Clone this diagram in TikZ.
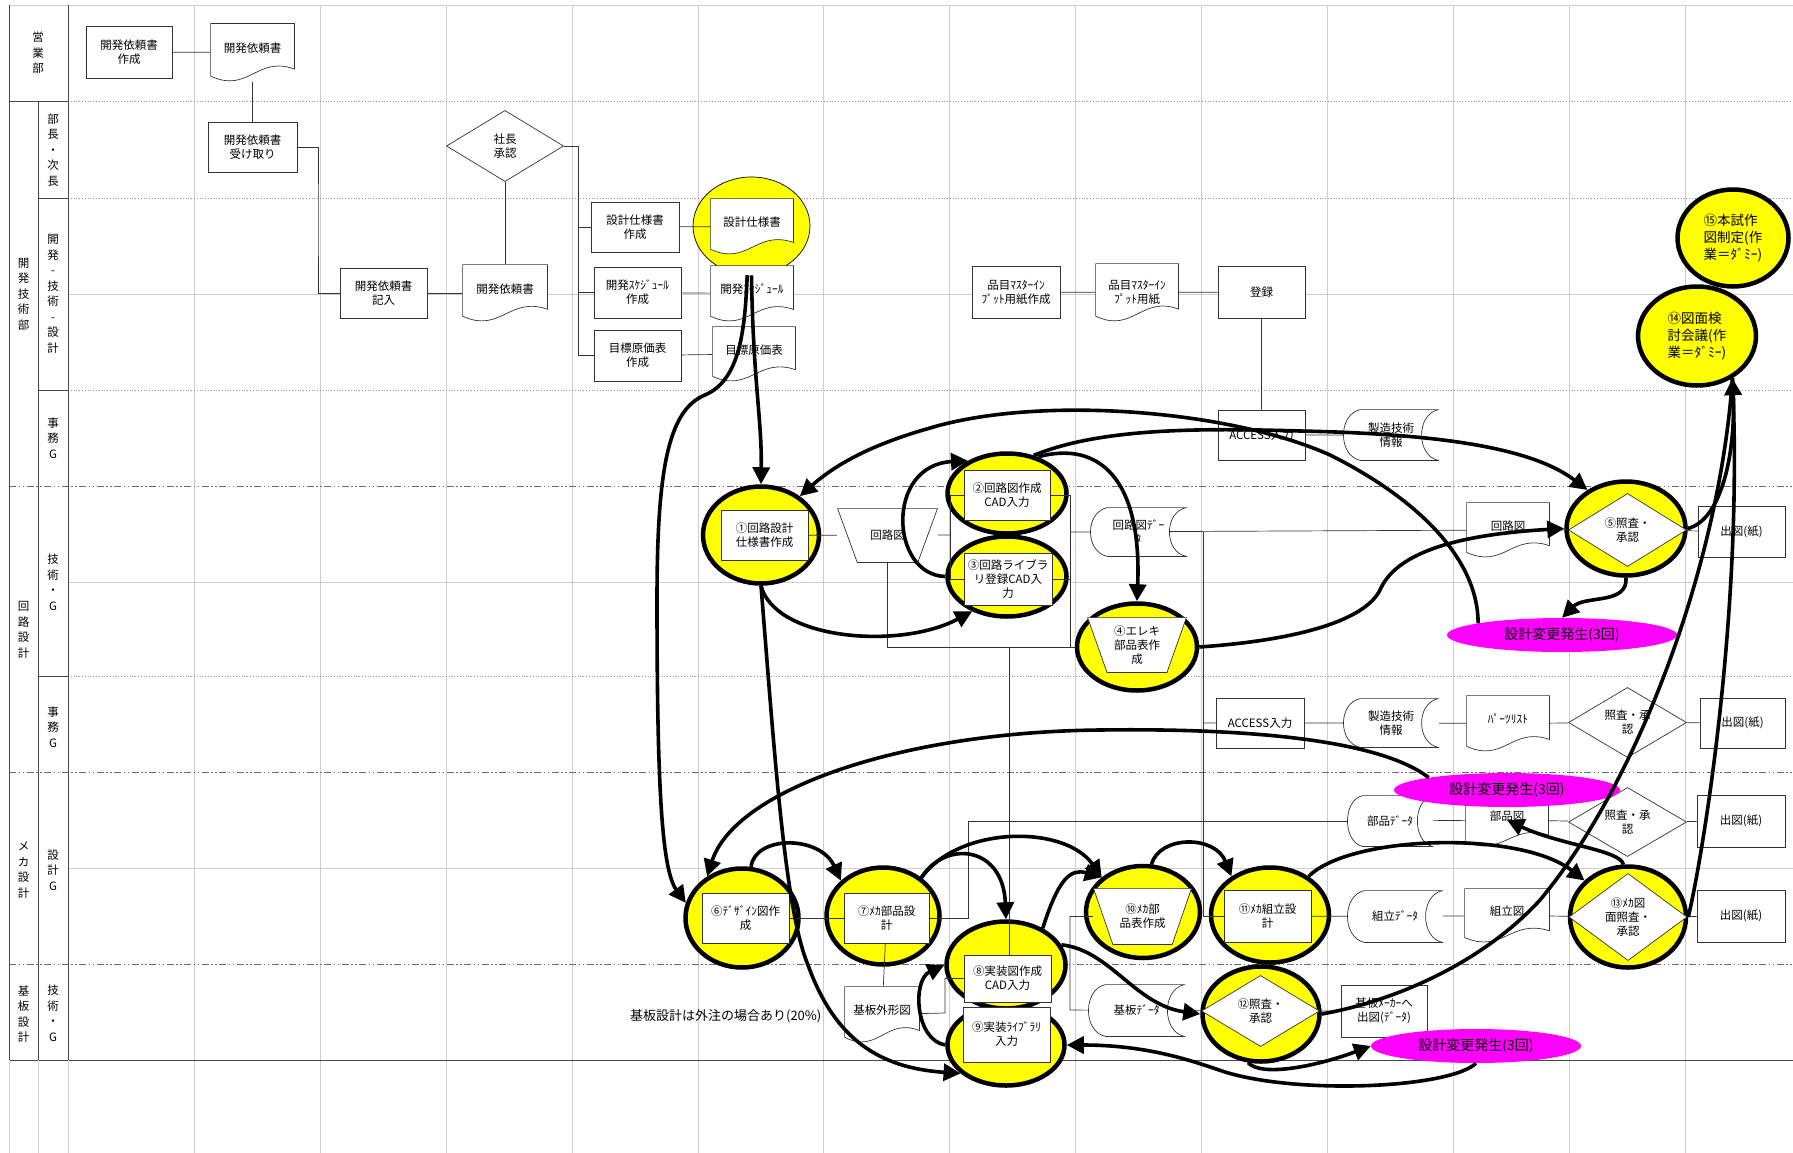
\documentclass[tikz,border=0pt]{standalone}
\usepackage{fontspec}
\setmainfont{Noto Sans CJK JP}
\usetikzlibrary{shapes.geometric,arrows.meta,calc}

\pgfdeclarelayer{grid}
\pgfdeclarelayer{ell}
\pgfdeclarelayer{thin}
\pgfdeclarelayer{fg}
\pgfsetlayers{grid,ell,thin,main,fg}

\definecolor{ylw}{RGB}{255,255,0}
\definecolor{mag}{RGB}{255,0,255}
\definecolor{gridc}{RGB}{205,205,205}
\definecolor{lanec}{RGB}{150,150,150}
\definecolor{hdrc}{RGB}{70,70,70}

\newcommand\nfont{\fontsize{11.5}{14}\selectfont}
\newcommand\lfont{\fontsize{11.5}{15.5}\selectfont}
\newcommand\mfont{\fontsize{14}{16}\selectfont}
\newcommand\bigfont{\fontsize{13.5}{17}\selectfont}
\newcommand\qfont{\fontsize{13}{15}\selectfont}

% outlines drawn inside a node's rectangle
\newcommand\docpath{%
  \draw[shp] let \p1=(path picture bounding box.north west),
                 \p2=(path picture bounding box.south east),
                 \n1={\y1-\y2}, \n2={\x2-\x1} in
    ({\x1+0.6pt},{\y1-0.6pt}) -- ({\x2-0.6pt},{\y1-0.6pt})
    -- ({\x2-0.6pt},{\y2+0.22*\n1})
    .. controls ({\x1+0.55*\n2},{\y2+0.45*\n1}) and ({\x1+0.45*\n2},{\y2-0.2*\n1}) ..
    ({\x1+0.6pt},{\y2+0.1*\n1}) -- cycle;}
\newcommand\storepath{%
  \draw[shp] let \p1=(path picture bounding box.north west),
                 \p2=(path picture bounding box.south east),
                 \n1={\y1-\y2}, \n2={\x2-\x1} in
    ({\x1+0.18*\n2},{\y1-0.6pt}) -- ({\x2-0.6pt},{\y1-0.6pt})
    .. controls ({\x2-0.24*\n2},{\y1-0.1*\n1}) and ({\x2-0.24*\n2},{\y2+0.1*\n1}) ..
    ({\x2-0.6pt},{\y2+0.6pt}) -- ({\x1+0.18*\n2},{\y2+0.6pt})
    .. controls ({\x1-0.06*\n2+0.6pt},{\y2+0.1*\n1}) and ({\x1-0.06*\n2+0.6pt},{\y1-0.1*\n1}) ..
    ({\x1+0.18*\n2},{\y1-0.6pt}) -- cycle;}
\newcommand\trappath{%
  \draw[shp] let \p1=(path picture bounding box.north west),
                 \p2=(path picture bounding box.south east),
                 \n2={\x2-\x1} in
    ({\x1+0.6pt},{\y1-0.6pt}) -- ({\x2-0.6pt},{\y1-0.6pt})
    -- ({\x2-0.2*\n2},{\y2+0.6pt}) -- ({\x1+0.2*\n2},{\y2+0.6pt}) -- cycle;}
\newcommand\diapath{%
  \draw[shp] let \p1=(path picture bounding box.north west),
                 \p2=(path picture bounding box.south east) in
    ({\x1+0.6pt},{0.5*\y1+0.5*\y2}) -- ({0.5*\x1+0.5*\x2},{\y1-0.6pt})
    -- ({\x2-0.6pt},{0.5*\y1+0.5*\y2}) -- ({0.5*\x1+0.5*\x2},{\y2+0.6pt}) -- cycle;}

\tikzset{
  shp/.style={draw=black!80, line width=0.7pt, fill=white},
  base/.style={font=\nfont, align=center, inner sep=0.5pt, text=black},
  proc/.style={base, rectangle, draw=black!80, line width=0.7pt, fill=white},
  docn/.style={base, rectangle, path picture={\docpath}},
  docup/.style={docn, text depth=9pt},
  storen/.style={base, rectangle, path picture={\storepath}},
  trapn/.style={base, rectangle, path picture={\trappath}},
  dian/.style={base, rectangle, path picture={\diapath}},
  sz/.style 2 args={minimum width=#1pt, minimum height=#2pt},
  yel/.style={ellipse, draw=black, line width=4.5pt, fill=ylw, inner sep=0pt},
  magn/.style={ellipse, fill=mag, draw=none, font=\mfont, inner sep=0pt},
  flow/.style={line width=3.6pt, draw=black, -{Triangle[length=17pt,width=17pt]}},
  flowline/.style={line width=3.6pt, draw=black},
  thinln/.style={line width=0.7pt, draw=black!80},
  gridln/.style={line width=0.6pt, draw=gridc},
  lanedot/.style={line width=0.8pt, draw=lanec, dotted},
  lanedash/.style={line width=0.9pt, draw=hdrc!80, dash pattern=on 7pt off 2.5pt on 1.5pt off 2.5pt on 1.5pt off 2.5pt},
  hdr/.style={line width=1pt, draw=hdrc},
  lane/.style={font=\lfont, align=center, inner sep=0pt},
}

\begin{document}
\begin{tikzpicture}[x=1pt,y=-1pt]
\useasboundingbox (0,0) rectangle (1793,1153);

% ---------- table grid and lanes ----------
\begin{pgfonlayer}{grid}
\fill[white] (0,0) rectangle (1793,1153);
\foreach \x in {194,320,446,572,698,823,949,1075,1201,1327,1453,1569,1685}
  \draw[gridln] (\x,5) -- (\x,1153);
\draw[gridln] (9,5) -- (1793,5);
\draw[gridln] (68,294) -- (1793,294);
\draw[gridln] (68,582) -- (1793,582);
\draw[gridln] (68,868) -- (1793,868);
\draw[lanedot] (68,101.7) -- (1793,101.7);
\draw[lanedot] (68,198) -- (1793,198);
\draw[lanedot] (68,390) -- (1793,390);
\draw[lanedot] (68,676) -- (1793,676);
\draw[lanedash] (9,486.7) -- (1793,486.7);
\draw[lanedash] (9,772.7) -- (1793,772.7);
\draw[lanedash] (9,964) -- (1793,964);
\draw[hdr] (9,1060) -- (1793,1060);
\draw[hdr] (9,101.7) -- (68,101.7);
\draw[hdr] (38,198) -- (68,198);
\draw[hdr] (38,390) -- (68,390);
\draw[hdr] (38,676) -- (68,676);
\draw[hdr] (9,5) -- (9,1060);
\draw[hdr] (38,101.7) -- (38,1060);
\draw[hdr] (68,5) -- (68,1060);
\draw[gridln] (9,1060) -- (9,1153);
\draw[gridln] (38,1060) -- (38,1153);
\draw[gridln] (68,1060) -- (68,1153);
\end{pgfonlayer}

% lane titles
\node[lane] (l1) at (38,53) {営\\業\\部};
\node[lane] (l2) at (53,150) {部\\長\\・\\次\\長};
\node[lane] (l3) at (53,294) {開\\発\\-\\技\\術\\-\\設\\計};
\node[lane] (l4) at (23.5,294) {開\\発\\技\\術\\部};
\node[lane] (l5) at (53,438) {事\\務\\G};
\node[lane] (l6) at (53,582) {技\\術\\・\\G};
\node[lane] (l7) at (23.5,630) {回\\路\\設\\計};
\node[lane] (l8) at (53,727) {事\\務\\G};
\node[lane] (l9) at (23.5,870) {メ\\カ\\設\\計};
\node[lane] (l10) at (53,870) {設\\計\\G};
\node[lane] (l11) at (23.5,1014) {基\\板\\設\\計};
\node[lane] (l12) at (53,1013) {技\\術\\・\\G};

% ---------- highlighted steps ----------
\begin{pgfonlayer}{ell}
\node[ellipse, draw=black, line width=0.7pt, fill=ylw, sz={117}{98}] (ce1) at (751.5,226) {};
\node[yel, sz={116}{97}] (p1) at (761,535) {};
\node[yel, sz={119}{80}] (p2) at (1007,493.5) {};
\node[yel, sz={119}{80}] (p3) at (1007,576.5) {};
\node[yel, sz={120}{87}] (p4) at (1137,647) {};
\node[yel, sz={119}{94}] (p5) at (1626,528.5) {};
\node[yel, sz={113}{99}] (p6) at (742,918) {};
\node[yel, sz={113}{97}] (p7) at (883,916) {};
\node[yel, sz={117}{81}] (p9) at (1006,1045) {};
\node[yel, sz={119}{87}] (p8) at (1006,965) {};
\node[yel, sz={114}{92}] (p10) at (1143,912) {};
\node[yel, sz={118}{95}] (p11) at (1270,915) {};
\node[yel, sz={117}{95}] (p12) at (1261,1014) {};
\node[yel, sz={116}{101}] (p13) at (1628,917) {};
\node[yel, sz={118}{99}, font=\bigfont, align=left] (p14) at (1697,336) {⑭図面検\\討会議(作\\業＝ﾀﾞﾐｰ)};
\node[yel, sz={111}{97}, font=\bigfont, align=left] (p15) at (1733,238) {⑮本試作\\図制定(作\\業＝ﾀﾞﾐｰ)};
\end{pgfonlayer}

% ---------- sales / development rows ----------
\node[proc, sz={86}{52}] (a1) at (129,52) {開発依頼書\\作成};
\node[docup, sz={85}{59}] (a2) at (252.5,52.5) {開発依頼書};
\node[proc, sz={89}{50}] (a3) at (252.5,147) {開発依頼書\\受け取り};
\node[proc, sz={87}{50}] (a4) at (383.5,293) {開発依頼書\\記入};
\node[docup, sz={86}{58}] (a5) at (505,293) {開発依頼書};
\node[dian, sz={118}{72}] (a6) at (505,146) {社長\\承認};
\node[proc, sz={88}{50}] (b1) at (635,227) {設計仕様書\\作成};
\node[proc, sz={87}{51}] (b2) at (637.5,292.5) {開発ｽｹｼﾞｭｰﾙ\\作成};
\node[proc, sz={87}{51}] (b3) at (637.5,355.5) {目標原価表\\作成};
\node[docup, sz={84}{57}] (c1) at (752,226.5) {設計仕様書};
\node[docup, sz={84}{57}] (c2) at (752,293.5) {開発ｽｹｼﾞｭｰﾙ};
\node[docup, sz={84}{56}] (c3) at (754,354) {目標原価表};
\node[proc, sz={88}{52}] (d1) at (1016,292) {品目ﾏｽﾀｰｲﾝ\\ﾌﾟｯﾄ用紙作成};
\node[docn, sz={84}{59}] (d2) at (1137,292.5) {品目ﾏｽﾀｰｲﾝ\\ﾌﾟｯﾄ用紙};
\node[proc, sz={87}{52}] (d3) at (1261.5,292) {登録};
\node[proc, sz={87}{50}] (d4) at (1261.5,435) {ACCESS入力};
\node[storen, sz={96}{52}] (d5) at (1391,435) {製造技術\\情報};

% ---------- circuit design ----------
\node[proc, sz={87}{50}] (p1b) at (764.5,535) {①回路設計\\仕様書作成};
\node[trapn, sz={101}{55}] (k1) at (887.5,535.5) {回路図};
\node[proc, sz={86}{50}] (p2b) at (1007,495) {②回路図作成\\CAD入力};
\node[proc, sz={88}{52}] (p3b) at (1008,579) {③回路ライブラ\\リ登録CAD入\\力};
\node[storen, sz={97}{50}] (k2) at (1138.5,532) {回路図ﾃﾞｰ\\ﾀ};
\node[trapn, sz={100}{56}] (p4b) at (1137,645) {④エレキ\\部品表作\\成};
\node[docup, sz={84}{56}] (k3) at (1508,530) {回路図};
\node[dian, sz={119}{74}] (p5b) at (1627.5,530) {⑤照査・\\承認};
\node[proc, sz={87}{51}] (k4) at (1741.5,531.5) {出図(紙)};
\node[proc, sz={88}{50}] (k5) at (1260,723) {ACCESS入力};
\node[storen, sz={96}{50}] (k6) at (1391,723) {製造技術\\情報};
\node[docup, sz={84}{57}] (k7) at (1508,723.5) {ﾊﾟｰﾂﾘｽﾄ};
\node[dian, sz={119}{71}] (k8) at (1627.5,722.5) {照査・承\\認};
\node[proc, sz={85}{50}] (k9) at (1742.5,723) {出図(紙)};

% ---------- mechanical design ----------
\node[storen, sz={86}{52}] (n1) at (1390,821) {部品ﾃﾞｰﾀ};
\node[docup, sz={84}{54}] (n2) at (1507,820) {部品図};
\node[dian, sz={119}{70}] (n3) at (1627.5,822) {照査・承\\認};
\node[proc, sz={88}{52}] (n4) at (1741,821) {出図(紙)};
\node[proc, sz={87}{50}] (p6b) at (745.5,918) {⑥ﾃﾞｻﾞｲﾝ図作\\成};
\node[proc, sz={85}{50}] (p7b) at (886.5,918) {⑦ﾒｶ部品設\\計};
\node[trapn, sz={99}{57}] (p10b) at (1142.5,916.5) {⑩ﾒｶ部\\品表作成};
\node[proc, sz={87}{52}] (p11b) at (1267.5,916) {⑪ﾒｶ組立設\\計};
\node[storen, sz={96}{53}] (n5) at (1395,916.5) {組立ﾃﾞｰﾀ};
\node[docup, sz={86}{55}] (n6) at (1507,915.5) {組立図};
\node[dian, sz={119}{88}] (p13b) at (1628,917) {⑬ﾒｶ図\\面照査・\\承認};
\node[proc, sz={88}{52}] (n7) at (1741,916) {出図(紙)};

% ---------- board design ----------
\node[proc, sz={87}{47}] (p8b) at (1007.5,978.5) {⑧実装図作成\\CAD入力};
\node[proc, sz={87}{55}] (p9b) at (1006.5,1034.5) {⑨実装ﾗｲﾌﾞﾗﾘ\\入力};
\node[docup, sz={76}{57}] (q1) at (882,1014.5) {基板外形図};
\node[storen, sz={97}{53}] (q2) at (1136.5,1010.5) {基板ﾃﾞｰﾀ};
\node[dian, sz={119}{72}] (p12b) at (1260.5,1011) {⑫照査・\\承認};
\node[proc, sz={86}{52}] (q3) at (1384,1011) {基板ﾒｰｶｰへ\\出図(ﾃﾞｰﾀ)};
\node[base, font=\qfont, anchor=east] (q4) at (822,1016) {基板設計は外注の場合あり(20\%)};

% ---------- design change events ----------
\node[magn, sz={230}{34}] (m1) at (1562,635) {設計変更発生(3回)};
\node[magn, sz={226}{34}] (m2) at (1507,790) {設計変更発生(3回)};
\node[magn, sz={210}{34}] (m3) at (1476,1046) {設計変更発生(3回)};

% ---------- thin flow lines ----------
\begin{pgfonlayer}{thin}
\draw[thinln] (a1) -- (a2);
\draw[thinln] (a2) -- (a3);
\coordinate (j1) at (318,220);
\draw[thinln] (a3) -| (j1) |- (a4);
\draw[thinln] (a4) -- (a5);
\draw[thinln] (a6) -- (a5);
\coordinate (j2) at (578,146);
\draw[thinln] (a6) -- (j2) |- (b3);
\draw[thinln] (j2 |- b1) -- (b1);
\draw[thinln] (j2 |- b2) -- (b2);
\draw[thinln] (b1) -- (c1);
\draw[thinln] (b2) -- (c2);
\draw[thinln] (b3) -- (c3);
\draw[thinln] (d1) -- (d2) -- (d3) -- (d4) -- (d5);
\draw[thinln] (p1b) -- (k1);
\coordinate (j5) at (950,535);
\draw[thinln] (k1) -- (j5);
\draw[thinln] (j5) |- (p2b);
\draw[thinln] (j5) |- (p3b);
\draw[thinln] (k1) |- (p4);
\coordinate (j3) at (1009,647);
\draw[thinln] (j3) -- (j3 |- p8b);
\coordinate (j4) at (1070,647);
\draw[thinln] (p2b) -| (j4);
\draw[thinln] (p3b) -| (j4);
\draw[thinln] (j4 |- k2) -- (k3) -- (p5b) -- (k4);
\coordinate (j6) at (1203,532);
\draw[thinln] (j6) |- (p11b);
\draw[thinln] (j6 |- k5) -- (k5) -- (k6) -- (k7) -- (k8) -- (k9);
\draw[thinln] (n1) -- (n2) -- (n3) -- (n4);
\coordinate (j7) at (968,821);
\draw[thinln] (p7b) -| (j7) -- (n1);
\draw[thinln] (p6b) -- (p7b);
\draw[thinln] (p7b) -- (q1);
\coordinate (j8) at (1070,1010);
\draw[thinln] (p10b) -| (j8) -- (q2);
\coordinate (j9) at (945,1013);
\draw[thinln] (q1) -- (j9) |- (p8b);
\draw[thinln] (p11b) -- (n5) -- (n6) -- (p13b) -- (n7);
\draw[thinln] (q2) -- (p12b) -- (q3);
\end{pgfonlayer}

% ---------- main process arrows ----------
\begin{pgfonlayer}{fg}
\draw[flow] (ce1.south) .. controls (753,380) and (762,420) .. (p1.north);
\draw[flow] (ce1.265) .. controls (745,330) and (740,380) .. (705,395)
  .. controls (668,410) and (657,470) .. (657,600)
  .. controls (657,790) and (662,870) .. (p6.165);
\draw[flow] (p1.south) .. controls (775,760) and (785,910) .. (808,965)
  .. controls (835,1040) and (880,1068) .. (p9.212);
\draw[flow] (p1.south) .. controls (775,640) and (900,650) .. (p3.225);
\draw[flow] (p3.west) .. controls (890,575) and (885,465) .. (p2.140);
\draw[flow] (p2.50) .. controls (1100,440) and (1142,480) .. (p4.north);
\draw[flow] (p2.55) .. controls (1100,428) and (1200,428) .. (1300,431)
  .. controls (1450,434) and (1535,450) .. (p5.135);
\draw[flow] (m1.172) .. controls (1478,560) and (1420,500) .. (1330,455)
  .. controls (1230,410) and (1040,395) .. (930,428)
  .. controls (870,445) and (835,465) .. (p1.45);
\draw[flow] (p4.east) .. controls (1300,640) and (1365,620) .. (1380,590)
  .. controls (1395,555) and (1450,535) .. (p5.west);
\draw[flow] (p5.south) .. controls (1628,605) and (1585,595) .. (m1.north);
\draw[flowline] (p5.east) .. controls (1722,520) and (1738,450) .. (p14.310);
\draw[flowline] (p12.east) .. controls (1400,1000) and (1485,960) .. (1540,900)
  .. controls (1640,780) and (1720,560) .. (p14.310);
\draw[flow] (p13.east) .. controls (1702,860) and (1742,620) .. (p14.310);
\draw[flow] (m3.south) .. controls (1450,1088) and (1300,1095) .. (1225,1072)
  .. controls (1195,1062) and (1150,1045) .. (p9.east);
\draw[flow] (p12.255) .. controls (1262,1078) and (1320,1065) .. (m3.west);
\draw[flow] (p8.20) .. controls (1110,950) and (1135,1005) .. (p12.west);
\draw[flow] (p9.west) .. controls (915,1040) and (912,980) .. (p8.west);
\draw[flow] (m2.171) .. controls (1380,740) and (1250,728) .. (1100,730)
  .. controls (900,732) and (735,790) .. (p6.130);
\draw[flow] (p6.80) .. controls (755,835) and (820,835) .. (p7.140);
\draw[flow] (p7.45) .. controls (945,840) and (1003,845) .. (p8.north);
\draw[flow] (p7.45) .. controls (960,825) and (1065,825) .. (p10.140);
\draw[flow] (p8.45) .. controls (1058,880) and (1070,868) .. (p10.140);
\draw[flow] (p10.80) .. controls (1160,835) and (1215,835) .. (p11.135);
\draw[flow] (p11.45) .. controls (1350,835) and (1520,830) .. (p13.140);
\draw[flow] (p13.95) .. controls (1620,850) and (1560,845) .. (n2.center);
\end{pgfonlayer}
\end{tikzpicture}
\end{document}
